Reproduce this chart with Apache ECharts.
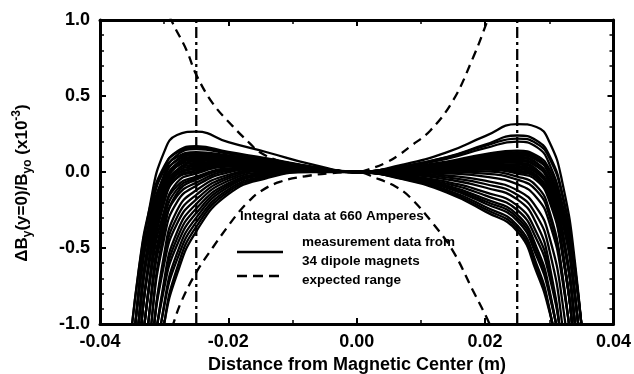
<!DOCTYPE html>
<html>
<head>
<meta charset="utf-8">
<script src="https://cdn.jsdelivr.net/npm/echarts@6/dist/echarts.min.js"></script>
<style>html,body{margin:0;padding:0;background:#fff}#c{width:634px;height:374px}</style>
</head>
<body>
<div id="c"></div>
<script>
// shared x positions (m) for the 34 measured curves
const X = [-0.036,-0.034,-0.032,-0.030,-0.028,-0.025,-0.020,-0.014,-0.007,0,0.007,0.014,0.020,0.025,0.028,0.030,0.032,0.034,0.036];
// measured curves (x10^-3), one array per dipole magnet
const c01 = [-1.85,-0.78,-0.17,0.132,0.243,0.265,0.196,0.13,0.05,0,0.047,0.129,0.236,0.315,0.296,0.199,-0.062,-0.595,-1.53];
const c02 = [-1.76,-0.803,-0.251,0.027,0.135,0.17,0.132,0.09,0.036,0,0.014,0.034,0.054,0.05,0.014,-0.104,-0.402,-1.0,-2.03];
const c03 = [-1.45,-0.653,-0.194,0.037,0.129,0.16,0.125,0.085,0.034,0,0.036,0.098,0.18,0.24,0.207,0.11,-0.137,-0.628,-1.48];
const c04 = [-2.14,-1.0,-0.344,-0.016,0.111,0.15,0.121,0.084,0.034,0,0.024,0.062,0.107,0.12,0.086,-0.018,-0.284,-0.812,-1.73];
const c05 = [-1.44,-0.662,-0.215,0.01,0.099,0.13,0.109,0.077,0.031,0,0.036,0.096,0.172,0.22,0.188,0.092,-0.151,-0.635,-1.47];
const c06 = [-2.1,-1.0,-0.361,-0.043,0.082,0.12,0.105,0.076,0.031,0,0.006,0.009,0.004,-0.03,-0.092,-0.255,-0.66,-1.46,-2.84];
const c07 = [-1.72,-0.814,-0.29,-0.027,0.076,0.11,0.098,0.071,0.029,0,0.033,0.087,0.157,0.2,0.165,0.054,-0.231,-0.798,-1.78];
const c08 = [-2.57,-1.235,-0.471,-0.09,0.057,0.1,0.093,0.07,0.029,0,0.021,0.054,0.092,0.1,0.062,-0.06,-0.373,-1.0,-2.09];
const c09 = [-2.08,-1.0,-0.379,-0.069,0.053,0.09,0.086,0.065,0.027,0,0.026,0.068,0.118,0.14,0.109,0.019,-0.208,-0.659,-1.44];
const c10 = [-2.54,-1.231,-0.481,-0.107,0.038,0.08,0.082,0.063,0.027,0,0.009,0.02,0.028,0.01,-0.03,-0.166,-0.516,-1.215,-2.43];
const c11 = [-1.69,-0.821,-0.317,-0.062,0.037,0.07,0.078,0.062,0.027,0,0.025,0.064,0.111,0.13,0.096,-0.009,-0.277,-0.81,-1.73];
const c12 = [-3,-1.525,-0.615,-0.162,0.012,0.06,0.07,0.057,0.025,0,0.018,0.046,0.077,0.08,0.043,-0.078,-0.385,-1.0,-2.07];
const c13 = [-2.04,-1.0,-0.402,-0.104,0.014,0.05,0.066,0.055,0.025,0,-0.005,-0.023,-0.057,-0.12,-0.234,-0.425,-0.843,-1.633,-2.97];
const c14 = [-2.48,-1.222,-0.501,-0.141,-0.001,0.04,0.062,0.054,0.024,0,0.023,0.058,0.099,0.11,0.079,-0.009,-0.229,-0.669,-1.43];
const c15 = [-3,-1.51,-0.626,-0.186,-0.017,0.03,0.055,0.049,0.023,0,0.017,0.04,0.065,0.06,0.018,-0.124,-0.491,-1.226,-2.5];
const c16 = [-2.0,-1.0,-0.42,-0.13,-0.016,0.02,0.05,0.048,0.022,0,0.02,0.05,0.084,0.09,0.057,-0.045,-0.304,-0.817,-1.71];
const c17 = [-3,-1.5,-0.633,-0.202,-0.036,0.01,0.046,0.046,0.022,0,0.003,0,-0.011,-0.05,-0.122,-0.285,-0.675,-1.44,-2.75];
const c18 = [-2.42,-1.21,-0.52,-0.174,-0.04,0,0.039,0.041,0.02,0,0.014,0.032,0.05,0.04,0.004,-0.112,-0.408,-1.0,-2.03];
const c19 = [-3,-1.845,-0.795,-0.272,-0.069,-0.01,0.035,0.04,0.02,0,0.017,0.042,0.069,0.07,0.037,-0.062,-0.317,-0.821,-1.69];
const c20 = [-2.84,-1.46,-0.66,-0.255,-0.092,-0.03,0.023,0.033,0.018,0,0.008,0.016,0.02,0,-0.04,-0.174,-0.52,-1.21,-2.42];
const c21 = [-3,-1.787,-0.808,-0.314,-0.114,-0.04,0.019,0.032,0.018,0,0,-0.009,-0.03,-0.08,-0.167,-0.33,-0.699,-1.405,-2.6];
const c22 = [-3,-2.22,-1.0,-0.385,-0.139,-0.05,0.015,0.03,0.017,0,0.012,0.028,0.043,0.03,-0.006,-0.121,-0.414,-1.0,-2.01];
const c23 = [-3,-1.73,-0.821,-0.356,-0.159,-0.07,0.007,0.027,0.017,0,0.011,0.024,0.035,0.02,-0.021,-0.158,-0.511,-1.218,-2.45];
const c24 = [-3,-2.1,-1.0,-0.436,-0.198,-0.09,-0.002,0.025,0.017,0,0.007,0.014,0.016,-0.01,-0.055,-0.19,-0.531,-1.21,-2.39];
const c25 = [-3,-2.54,-1.222,-0.541,-0.253,-0.12,-0.018,0.017,0.014,0,-0.01,-0.035,-0.079,-0.15,-0.286,-0.511,-1.0,-1.92,-3];
const c26 = [-3,-2.41,-1.204,-0.573,-0.297,-0.15,-0.03,0.012,0.014,0,-0.014,-0.048,-0.102,-0.18,-0.34,-0.606,-1.187,-2.28,-3];
const c27 = [-3,-2.28,-1.187,-0.606,-0.34,-0.18,-0.043,0.008,0.013,0,-0.02,-0.064,-0.132,-0.22,-0.398,-0.649,-1.163,-2.1,-3];
const c28 = [-3,-2.73,-1.408,-0.713,-0.396,-0.21,-0.058,0,0.011,0,-0.025,-0.076,-0.154,-0.25,-0.441,-0.682,-1.145,-1.97,-3];
const c29 = [-3,-2.5,-1.367,-0.738,-0.438,-0.24,-0.074,-0.008,0.008,0,-0.029,-0.088,-0.177,-0.28,-0.494,-0.772,-1.312,-2.3,-3];
const c30 = [-3,-2.3,-1.326,-0.764,-0.48,-0.27,-0.086,-0.012,0.008,0,-0.032,-0.097,-0.192,-0.3,-0.522,-0.789,-1.285,-2.1,-3];
const c31 = [-3,-2.6,-1.553,-0.87,-0.536,-0.3,-0.099,-0.017,0.007,0,-0.035,-0.105,-0.207,-0.32,-0.551,-0.805,-1.258,-2.0,-3];
const c32 = [-3,-2.5,-1.478,-0.885,-0.577,-0.33,-0.115,-0.025,0.005,0,-0.04,-0.117,-0.229,-0.35,-0.604,-0.895,-1.428,-2.3,-3];
const c33 = [-3,-2.7,-1.728,-1.0,-0.634,-0.36,-0.13,-0.032,0.002,0,-0.043,-0.125,-0.244,-0.37,-0.631,-0.905,-1.379,-2.2,-3];
const c34 = [-3,-2.6,-1.605,-1.0,-0.672,-0.39,-0.146,-0.04,0,0,-0.046,-0.134,-0.259,-0.39,-0.657,-0.915,-1.329,-2.1,-3];
const measured = [c01,c02,c03,c04,c05,c06,c07,c08,c09,c10,c11,c12,c13,c14,c15,c16,c17,c18,c19,c20,c21,c22,c23,c24,c25,c26,c27,c28,c29,c30,c31,c32,c33,c34];

// expected range (dashed)
const expUpperX = [-0.0300,-0.0289,-0.0265,-0.0250,-0.0224,-0.0193,-0.0167,-0.0151,-0.0120,-0.0080,-0.0040,0,0.0020,0.0045,0.0065,0.0084,0.0114,0.0150,0.0181,0.0204,0.0212];
const expUpperY = [1.12,1.00,0.80,0.64,0.45,0.30,0.19,0.13,0.07,0.03,0.008,0,0.02,0.06,0.11,0.17,0.27,0.47,0.75,1.00,1.10];
const expLowerX = [-0.0295,-0.0286,-0.0273,-0.0250,-0.0224,-0.0198,-0.0183,-0.0170,-0.0151,-0.0120,-0.0080,-0.0040,0,0.0030,0.0061,0.0083,0.0119,0.0150,0.0181,0.0207,0.0215];
const expLowerY = [-1.12,-1.00,-0.85,-0.66,-0.495,-0.342,-0.26,-0.20,-0.13,-0.065,-0.028,-0.008,0,-0.04,-0.097,-0.166,-0.34,-0.52,-0.78,-1.00,-1.10];

// vertical dash-dot markers
const markerX = [-0.025, 0.025];
const yRange = [-1, 1];

// tick labels
const xTicks = [-0.04,-0.02,0.00,0.02,0.04];
const yTicks = [-1.0,-0.5,0.0,0.5,1.0];

const FONT = '"Liberation Sans", Arial, Helvetica, sans-serif';
const chart = echarts.init(document.getElementById('c'), null, {renderer:'canvas'});

const series = [];
measured.forEach((row, k) => {
  series.push({
    type:'line', name:'m'+k, xAxisIndex:0, yAxisIndex:0,
    data: X.map((x,i)=>[x,row[i]]),
    smooth:0.5, showSymbol:false, symbol:'none', clip:true,
    lineStyle:{color:'#000', width:2.3}, silent:true, z:3
  });
});
series.push({
  type:'line', data: expUpperX.map((x,i)=>[x,expUpperY[i]]), smooth:0.4, symbol:'none', clip:true,
  lineStyle:{color:'#000', width:2.3, type:[9,6]}, silent:true, z:4
});
series.push({
  type:'line', data: expLowerX.map((x,i)=>[x,expLowerY[i]]), smooth:0.4, symbol:'none', clip:true,
  lineStyle:{color:'#000', width:2.3, type:[9,6]}, silent:true, z:4
});
markerX.forEach(mx => {
  series.push({
    type:'line', data: yRange.map(v=>[mx,v]), symbol:'none', clip:true,
    lineStyle:{color:'#000', width:2.3, type:[11,4,3,4]}, silent:true, z:4
  });
});

const axisCommon = {
  type:'value',
  axisLine:{show:true, onZero:false, lineStyle:{color:'#000', width:3}},
  axisTick:{show:true, inside:true, length:6, lineStyle:{color:'#000', width:2}},
  minorTick:{show:true, length:4, lineStyle:{color:'#000', width:1.5}},
  splitLine:{show:false}
};

chart.setOption({
  animation:false,
  backgroundColor:'#fff',
  grid:{left:100, right:19, top:20, bottom:50, show:false},
  xAxis:[
    Object.assign({}, axisCommon, {position:'bottom', min:xTicks[0], max:xTicks[xTicks.length-1], interval:0.02,
      minorTick:Object.assign({}, axisCommon.minorTick, {splitNumber:2}),
      axisLabel:{show:true, margin:9, color:'#000', fontFamily:FONT, fontWeight:'bold', fontSize:18,
        formatter:v=>v.toFixed(2)}}),
    Object.assign({}, axisCommon, {position:'top', min:xTicks[0], max:xTicks[xTicks.length-1], interval:0.02,
      minorTick:Object.assign({}, axisCommon.minorTick, {splitNumber:2}),
      axisLabel:{show:false}})
  ],
  yAxis:[
    Object.assign({}, axisCommon, {position:'left', min:yTicks[0], max:yTicks[yTicks.length-1], interval:0.5,
      minorTick:Object.assign({}, axisCommon.minorTick, {splitNumber:5}),
      axisLabel:{show:true, margin:10, color:'#000', fontFamily:FONT, fontWeight:'bold', fontSize:18,
        formatter:v=>v.toFixed(1)}}),
    Object.assign({}, axisCommon, {position:'right', min:yTicks[0], max:yTicks[yTicks.length-1], interval:0.5,
      minorTick:Object.assign({}, axisCommon.minorTick, {splitNumber:5}),
      axisLabel:{show:false}})
  ],
  series: series,
  graphic:[
    {type:'text', x:357, y:365, style:{text:'Distance from Magnetic Center (m)', font:'bold 18px '+FONT, fill:'#000', align:'center', verticalAlign:'middle'}},
    {type:'text', x:22, y:183, rotation:Math.PI/2, style:{
      text:'{b|ΔB}{s|y}{b|(y=0)/B}{s|yo}{b| (x10}{p|-3}{b|)}', align:'center', verticalAlign:'middle',
      rich:{
        b:{font:'bold 17px '+FONT, fill:'#000', lineHeight:23, verticalAlign:'middle'},
        s:{font:'bold 12px '+FONT, fill:'#000', lineHeight:23, verticalAlign:'bottom'},
        p:{font:'bold 12px '+FONT, fill:'#000', lineHeight:23, verticalAlign:'top'}
      }}},
    {type:'text', x:240, y:216, style:{text:'Integral data at 660 Amperes', font:'bold 13.5px '+FONT, fill:'#000', align:'left', verticalAlign:'middle'}},
    {type:'line', shape:{x1:237, y1:252, x2:283, y2:252}, style:{stroke:'#000', lineWidth:2.3}},
    {type:'line', shape:{x1:237, y1:276, x2:285, y2:276}, style:{stroke:'#000', lineWidth:2.3, lineDash:[10,6]}},
    {type:'text', x:302, y:242, style:{text:'measurement data from', font:'bold 13.5px '+FONT, fill:'#000', align:'left', verticalAlign:'middle'}},
    {type:'text', x:302, y:261, style:{text:'34 dipole magnets', font:'bold 13.5px '+FONT, fill:'#000', align:'left', verticalAlign:'middle'}},
    {type:'text', x:302, y:280, style:{text:'expected range', font:'bold 13.5px '+FONT, fill:'#000', align:'left', verticalAlign:'middle'}}
  ]
});
</script>
</body>
</html>
